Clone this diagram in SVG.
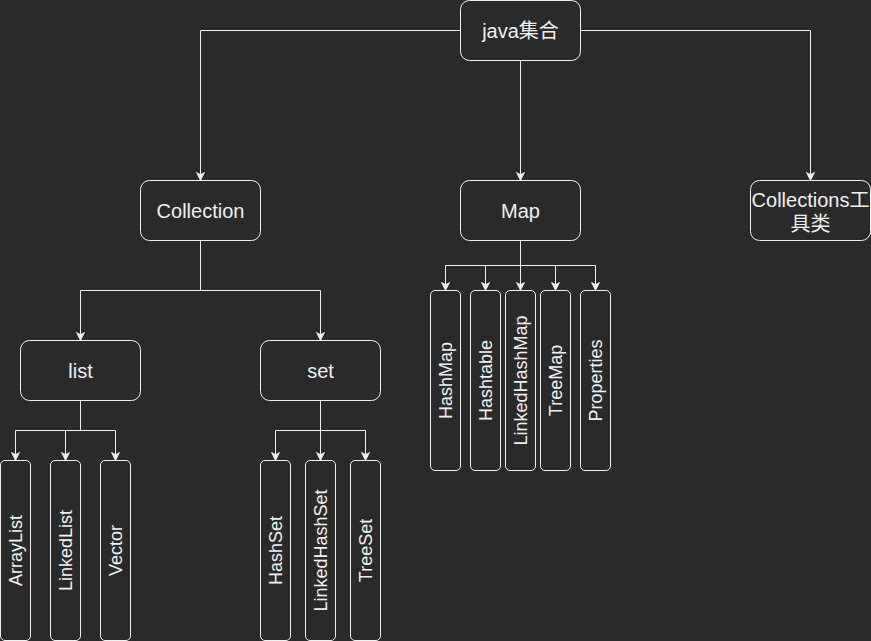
<svg xmlns="http://www.w3.org/2000/svg" width="871" height="641" viewBox="0 0 871 641">
<style>
.box{fill:#2a2a2a;stroke:#f0f0f0;stroke-width:1}
.t{fill:#f0f0f0;font-family:"Liberation Sans","Noto Sans CJK SC",Arial,sans-serif;font-size:20px;text-anchor:middle}
.v{fill:#f0f0f0;font-family:"Liberation Sans",Arial,sans-serif;font-size:18px;text-anchor:middle}
.c{fill:none;stroke:#f0f0f0;stroke-width:1;marker-end:url(#arr)}
.c0{fill:none;stroke:#f0f0f0;stroke-width:1}
</style>
<defs>
<marker id="arr" markerUnits="userSpaceOnUse" markerWidth="10" markerHeight="10" viewBox="0 0 10 10" refX="9" refY="5" orient="auto">
<path d="M1,1 L9,5 L1,9 L3,5 Z" fill="#f0f0f0" stroke="#f0f0f0" stroke-width="0.8"/>
</marker>
</defs>
<rect width="871" height="641" fill="#2a2a2a"/>
<g id="connectors">
<path class="c" d="M460.5,30.5 L200.5,30.5 L200.5,180.5"/>
<path class="c" d="M520.5,60.5 L520.5,180.5"/>
<path class="c" d="M580.5,30.5 L810.5,30.5 L810.5,180.5"/>
<path class="c0" d="M200.5,240.5 L200.5,290.5 M80.5,290.5 L320.5,290.5"/>
<path class="c" d="M80.5,290.5 L80.5,340.5"/>
<path class="c" d="M320.5,290.5 L320.5,340.5"/>
<path class="c0" d="M80.5,400.5 L80.5,430.5 M15.5,430.5 L115.5,430.5"/>
<path class="c" d="M15.5,430.5 L15.5,460.5"/>
<path class="c" d="M65.5,430.5 L65.5,460.5"/>
<path class="c" d="M115.5,430.5 L115.5,460.5"/>
<path class="c0" d="M320.5,400.5 L320.5,430.5 M275.5,430.5 L365.5,430.5"/>
<path class="c" d="M275.5,430.5 L275.5,460.5"/>
<path class="c" d="M320.5,430.5 L320.5,460.5"/>
<path class="c" d="M365.5,430.5 L365.5,460.5"/>
<path class="c0" d="M520.5,240.5 L520.5,265.5 M445.5,265.5 L595.5,265.5"/>
<path class="c" d="M445.5,265.5 L445.5,290.5"/>
<path class="c" d="M485.5,265.5 L485.5,290.5"/>
<path class="c" d="M520.5,265.5 L520.5,290.5"/>
<path class="c" d="M555.5,265.5 L555.5,290.5"/>
<path class="c" d="M595.5,265.5 L595.5,290.5"/>
</g>
<g id="java"><rect class="box" x="460.5" y="0.5" width="120" height="60" rx="9"/><text class="t" x="520.5" y="37.5">java集合</text></g>
<g id="collection"><rect class="box" x="140.5" y="180.5" width="120" height="60" rx="9"/><text class="t" x="200.5" y="217.5">Collection</text></g>
<g id="map"><rect class="box" x="460.5" y="180.5" width="120" height="60" rx="9"/><text class="t" x="520.5" y="217.5">Map</text></g>
<g id="collections"><rect class="box" x="750.5" y="180.5" width="120" height="60" rx="9"/><text class="t" x="810.5" y="206.5">Collections工</text><text class="t" x="810.5" y="231">具类</text></g>
<g id="list"><rect class="box" x="20.5" y="340.5" width="120" height="60" rx="9"/><text class="t" x="80.5" y="377.5">list</text></g>
<g id="set"><rect class="box" x="260.5" y="340.5" width="120" height="60" rx="9"/><text class="t" x="320.5" y="377.5">set</text></g>
<g id="arraylist"><rect class="box" x="0.5" y="460.5" width="30" height="180" rx="4.5"/><text class="v" transform="translate(15.5,550.5) rotate(-90)" y="6.3">ArrayList</text></g>
<g id="linkedlist"><rect class="box" x="50.5" y="460.5" width="30" height="180" rx="4.5"/><text class="v" transform="translate(65.5,550.5) rotate(-90)" y="6.3">LinkedList</text></g>
<g id="vector"><rect class="box" x="100.5" y="460.5" width="30" height="180" rx="4.5"/><text class="v" transform="translate(115.5,550.5) rotate(-90)" y="6.3">Vector</text></g>
<g id="hashset"><rect class="box" x="260.5" y="460.5" width="30" height="180" rx="4.5"/><text class="v" transform="translate(275.5,550.5) rotate(-90)" y="6.3">HashSet</text></g>
<g id="linkedhashset"><rect class="box" x="305.5" y="460.5" width="30" height="180" rx="4.5"/><text class="v" transform="translate(320.5,550.5) rotate(-90)" y="6.3">LinkedHashSet</text></g>
<g id="treeset"><rect class="box" x="350.5" y="460.5" width="30" height="180" rx="4.5"/><text class="v" transform="translate(365.5,550.5) rotate(-90)" y="6.3">TreeSet</text></g>
<g id="hashmap"><rect class="box" x="430.5" y="290.5" width="30" height="180" rx="4.5"/><text class="v" transform="translate(445.5,380.5) rotate(-90)" y="6.3">HashMap</text></g>
<g id="hashtable"><rect class="box" x="470.5" y="290.5" width="30" height="180" rx="4.5"/><text class="v" transform="translate(485.5,380.5) rotate(-90)" y="6.3">Hashtable</text></g>
<g id="linkedhashmap"><rect class="box" x="505.5" y="290.5" width="30" height="180" rx="4.5"/><text class="v" transform="translate(520.5,380.5) rotate(-90)" y="6.3">LinkedHashMap</text></g>
<g id="treemap"><rect class="box" x="540.5" y="290.5" width="30" height="180" rx="4.5"/><text class="v" transform="translate(555.5,380.5) rotate(-90)" y="6.3">TreeMap</text></g>
<g id="properties"><rect class="box" x="580.5" y="290.5" width="30" height="180" rx="4.5"/><text class="v" transform="translate(595.5,380.5) rotate(-90)" y="6.3">Properties</text></g>
</svg>
